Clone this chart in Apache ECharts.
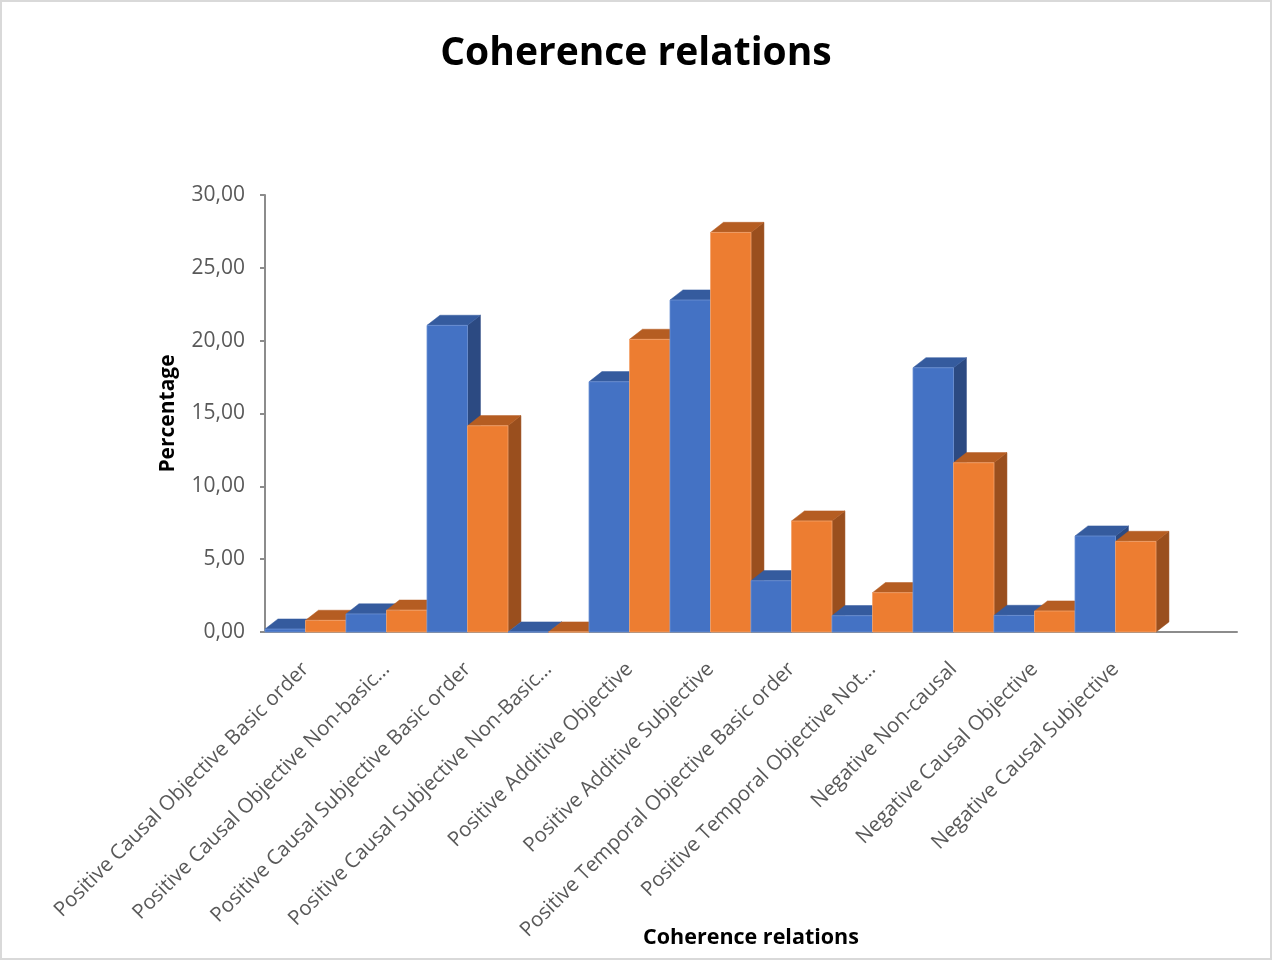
<!DOCTYPE html>
<html>
<head>
<meta charset="utf-8">
<title>Coherence relations</title>
<script src="https://cdn.jsdelivr.net/npm/echarts@6/dist/echarts.min.js"></script>
<style>
  html, body { margin: 0; padding: 0; background: #ffffff; }
  #frame { position: absolute; left: 0; top: 0; width: 1272px; height: 960px; box-sizing: border-box; border: 2px solid #d9d9d9; }
  #chart { position: absolute; left: 0; top: 0; width: 1272px; height: 960px; }
</style>
</head>
<body>
<div id="frame"></div>
<div id="chart"></div>
<script>
// Category labels along the horizontal axis
const categories = [
  'Positive Causal Objective Basic order',
  'Positive Causal Objective Non-basic…',
  'Positive Causal Subjective Basic order',
  'Positive Causal Subjective Non-Basic…',
  'Positive Additive Objective',
  'Positive Additive Subjective',
  'Positive Temporal Objective Basic order',
  'Positive Temporal Objective Not…',
  'Negative Non-causal',
  'Negative Causal Objective',
  'Negative Causal Subjective'
];

// Percentages for the two groups (blue first, orange second)
const firstGroup  = [0.20, 1.24, 21.05, 0.00, 17.18, 22.79, 3.52, 1.12, 18.14, 1.14, 6.59];
const secondGroup = [0.80, 1.50, 14.16, 0.00, 20.09, 27.43, 7.62, 2.70, 11.62, 1.44, 6.22];

// Value axis range
const yMin = 0;
const yMax = 30;
const yStep = 5;

const FONT = '"Open Sans", "Noto Sans", sans-serif';

// Shades for each group: front face, top face, side face
const palettes = [
  { front: '#4472c4', top: '#355b9e', side: '#2c4a82', edge: '#6d92d4' },
  { front: '#ed7d31', top: '#b55d22', side: '#9a4f1e', edge: '#f4a46f' }
];

// Draws one bar as a pseudo-3D block (front, top and right side faces)
function makeBlock(slot) {
  const pal = palettes[slot];
  return function (params, api) {
    const idx = api.value(0);
    const val = api.value(1);
    const topPt = api.coord([idx, val]);
    const basePt = api.coord([idx, 0]);
    const band = api.size([1, 0])[0];
    const w = band / 2;
    const x0 = topPt[0] - band / 2 + slot * w;
    const x1 = x0 + w;
    const yT = topPt[1];
    const yB = basePt[1];
    const dx = band * 0.16;
    const dy = -band * 0.125;
    const order = idx * 10 + slot * 5;
    return {
      type: 'group',
      children: [
        {
          type: 'polygon',
          z2: order + 1,
          shape: { points: [[x1, yT], [x1 + dx, yT + dy], [x1 + dx, yB + dy], [x1, yB]] },
          style: { fill: pal.side, stroke: pal.side, lineWidth: 0.5 }
        },
        {
          type: 'polygon',
          z2: order + 2,
          shape: { points: [[x0, yT], [x0 + dx, yT + dy], [x1 + dx, yT + dy], [x1, yT]] },
          style: { fill: pal.top, stroke: pal.top, lineWidth: 0.5 }
        },
        {
          type: 'rect',
          z2: order + 3,
          shape: { x: x0, y: yT, width: w, height: yB - yT },
          style: { fill: pal.front, stroke: pal.edge, lineWidth: 0.8 }
        }
      ]
    };
  };
}

const chart = echarts.init(document.getElementById('chart'), null, { renderer: 'canvas' });

chart.setOption({
  animation: false,
  backgroundColor: 'transparent',
  title: {
    text: 'Coherence relations',
    left: 'center',
    top: 29,
    textStyle: { fontFamily: FONT, fontWeight: 'bold', fontSize: 39, color: '#000000' }
  },
  grid: { left: 265, right: 35, top: 195, bottom: 328, containLabel: false, outerBoundsMode: 'none' },
  xAxis: {
    type: 'category',
    data: categories,
    max: categories.length,
    boundaryGap: true,
    axisLine: { show: true, lineStyle: { color: '#8c8c8c', width: 2 } },
    axisTick: { show: false },
    splitLine: { show: false },
    axisLabel: {
      interval: 0,
      rotate: 45,
      margin: 34,
      fontFamily: FONT,
      fontSize: 20.5,
      color: '#595959',
      formatter: function (v) { return v ? v : ''; }
    },
    name: 'Coherence relations',
    nameLocation: 'middle',
    nameGap: 295,
    nameMoveOverlap: false,
    nameTextStyle: { fontFamily: FONT, fontWeight: 'bold', fontSize: 21.5, color: '#000000' }
  },
  yAxis: {
    type: 'value',
    min: yMin,
    max: yMax,
    interval: yStep,
    axisLine: { show: true, lineStyle: { color: '#8c8c8c', width: 2 } },
    axisTick: { show: true, inside: false, length: 5, lineStyle: { color: '#8c8c8c', width: 2 } },
    splitLine: { show: false },
    axisLabel: {
      margin: 20,
      fontFamily: FONT,
      fontSize: 21,
      color: '#595959',
      formatter: function (v) { return v.toFixed(2).replace('.', ','); }
    },
    name: 'Percentage',
    nameLocation: 'middle',
    nameGap: 86,
    nameRotate: 90,
    nameMoveOverlap: false,
    nameTextStyle: { fontFamily: FONT, fontWeight: 'bold', fontSize: 21, color: '#000000' }
  },
  series: [
    {
      type: 'custom',
      renderItem: makeBlock(0),
      data: firstGroup.map(function (v, i) { return [i, v]; }),
      encode: { x: 0, y: 1 },
      clip: false
    },
    {
      type: 'custom',
      renderItem: makeBlock(1),
      data: secondGroup.map(function (v, i) { return [i, v]; }),
      encode: { x: 0, y: 1 },
      clip: false
    }
  ]
});
</script>
</body>
</html>
